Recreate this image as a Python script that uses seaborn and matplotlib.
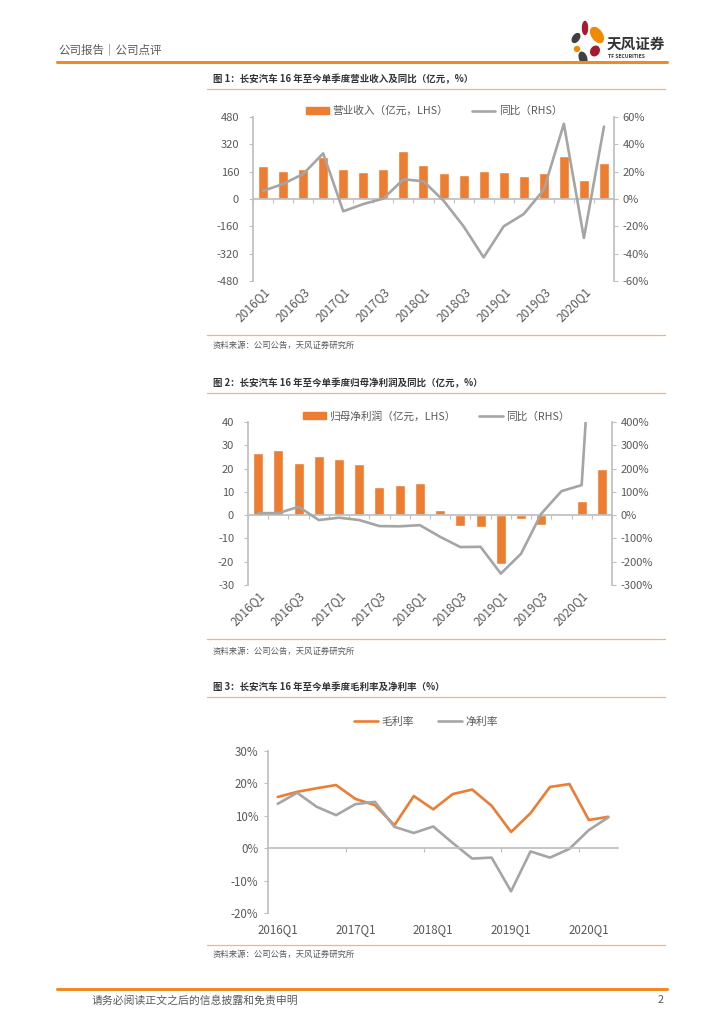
import numpy as np
import pandas as pd
import seaborn as sns
import matplotlib.pyplot as plt
from matplotlib.lines import Line2D
from matplotlib.patches import Patch, Ellipse

sns.set_theme(style="white")
plt.rcParams['font.family'] = ['Noto Sans CJK SC', 'DejaVu Sans']
plt.rcParams['axes.unicode_minus'] = False

# ---- data ----
quarters = ['2016Q1', '2016Q2', '2016Q3', '2016Q4', '2017Q1', '2017Q2', '2017Q3', '2017Q4',
            '2018Q1', '2018Q2', '2018Q3', '2018Q4', '2019Q1', '2019Q2', '2019Q3', '2019Q4',
            '2020Q1', '2020Q2']
revenue = [193, 164, 178, 248, 174, 156, 178, 283, 199, 154, 142, 164, 160, 137, 152, 254, 113, 213]
revenue_yoy = [5.9, 11.0, 18.3, 33.4, -9.0, -3.7, 0.3, 14.4, 13.0, -1.2, -20.0, -42.7,
               -20.0, -11.0, 6.8, 55.0, -28.5, 53.0]
profit = [26.6, 28.1, 22.4, 25.3, 23.9, 22.0, 11.9, 13.1, 13.7, 2.0, -4.6, -5.0,
          -21.0, -1.6, -4.3, 0.0, 6.1, 19.7]
profit_yoy = [8.6, 8.6, 36, -21, -11, -21, -47, -48, -43, -93, -137, -136,
              -251, -166, 6, 103, 129, 1500]
gross_margin = [15.8, 17.4, 18.5, 19.5, 15.2, 13.3, 7.1, 16.1, 12.0, 16.7, 18.1, 13.1,
                5.0, 10.8, 18.9, 19.8, 8.7, 9.7]
net_margin = [13.7, 17.1, 12.8, 10.2, 13.6, 14.3, 6.6, 4.7, 6.7, 1.6, -3.2, -2.9,
              -13.3, -1.0, -2.9, -0.2, 5.6, 9.5]

ORANGE = '#ED7D31'
GRAY = '#A5A5A5'
AXIS = '#BFBFBF'
TEXT = '#595959'
pos = np.arange(len(quarters))

W, H = 724, 1024
fig = plt.figure(figsize=(W / 100, H / 100), dpi=100)


def box(x0, y0, x1, y1):
    return fig.add_axes([x0 / W, 1 - y1 / H, (x1 - x0) / W, (y1 - y0) / H])


def hline(y, x0, x1, color, lw):
    fig.add_artist(Line2D([x0 / W, x1 / W], [1 - y / H, 1 - y / H], color=color, lw=lw))


def text(x, y, s, **kw):
    fig.text(x / W, 1 - y / H, s, va='center', **kw)


def xaxis_setup(ax, tick_at, label_at, rotate, fs):
    ax.set_xlim(-0.5, len(quarters) - 0.5)
    ax.spines['bottom'].set_position(('data', 0))
    ax.spines['bottom'].set_color(AXIS)
    ax.set_xticks(tick_at)
    ax.tick_params(axis='x', bottom=True, length=3, width=0.8, color=AXIS,
                   direction='out', labelbottom=False)
    sec = ax.secondary_xaxis(0)
    sec.set_xticks(label_at, labels=[quarters[i] for i in label_at])
    sec.tick_params(length=0, labelsize=fs, labelcolor=TEXT, pad=3 if rotate else 7)
    sec.spines['bottom'].set_visible(False)
    if rotate:
        plt.setp(sec.get_xticklabels(), rotation=45, ha='right', va='top',
                 rotation_mode='anchor')


def combo(ax, values, yoy, label, lticks, rticks, legend_xy):
    df = pd.DataFrame({'pos': pos, 'value': values, 'yoy': yoy})
    sns.barplot(data=df, x='pos', y='value', ax=ax, color=ORANGE, saturation=1, width=0.5)
    ax2 = ax.twinx()
    sns.lineplot(data=df, x='pos', y='yoy', ax=ax2, color=GRAY, lw=1.9)
    xaxis_setup(ax, np.arange(-0.5, len(quarters), 1), list(range(0, len(quarters), 2)), True, 8.6)
    ax.set_ylim(lticks[0], lticks[-1])
    ax.set_yticks(lticks, labels=[f'{v:g}' for v in lticks])
    ax2.set_ylim(rticks[0], rticks[-1])
    ax2.set_yticks(rticks, labels=[f'{v:g}%' for v in rticks])
    for a in (ax, ax2):
        a.set_xlabel('')
        a.set_ylabel('')
        a.spines['top'].set_visible(False)
    ax.spines['right'].set_visible(False)
    ax.spines['left'].set_color(AXIS)
    ax2.spines['left'].set_visible(False)
    ax2.spines['bottom'].set_visible(False)
    ax2.spines['right'].set_color(AXIS)
    ax.tick_params(axis='y', left=True, length=3, width=0.8, color=AXIS,
                   labelsize=8, labelcolor=TEXT, pad=7)
    ax2.tick_params(axis='y', right=True, length=3, width=0.8, color=AXIS,
                    labelsize=8, labelcolor=TEXT, pad=3)
    handles = [Patch(color=ORANGE, label=label),
               Line2D([], [], color=GRAY, lw=1.9, label='同比（RHS）')]
    ax2.legend(handles=handles, loc='center', bbox_to_anchor=(legend_xy[0] / W, 1 - legend_xy[1] / H),
               bbox_transform=fig.transFigure, ncol=2, frameon=False, fontsize=7.7,
               handlelength=2.2, handleheight=0.6, handletextpad=0.3, columnspacing=2.2,
               labelcolor=TEXT)


# ---- page header ----
text(58, 50, '公司报告｜公司点评', fontsize=8.3, color=TEXT)
hline(62, 57, 667, '#F08A24', 2.2)
logo = box(562, 18, 612, 64)
logo.set_xlim(562, 612)
logo.set_ylim(64, 18)
logo.axis('off')
for (cx, cy, w, h, ang, col) in [
        (585, 28, 5, 13, 0, '#A6192E'), (597, 35, 10, 17, -35, '#F08A00'),
        (576, 38, 6, 10, 35, '#404040'), (577, 49, 5, 5, 0, '#F08A00'),
        (595, 51, 8, 10, 30, '#A6192E'), (583, 58, 7, 12, -20, '#404040')]:
    logo.add_patch(Ellipse((cx, cy), w, h, angle=ang, color=col))
text(607, 44, '天风证券', fontsize=10.5, weight='bold', color='#333333')
text(608, 57, 'TF SECURITIES', fontsize=3.6, weight='bold', color='#333333')

titles = [(79, 89, '图 1：长安汽车 16 年至今单季度营业收入及同比（亿元，%）', 335, 345),
          (383, 393, '图 2：长安汽车 16 年至今单季度归母净利润及同比（亿元，%）', 639, 651),
          (687, 697, '图 3：长安汽车 16 年至今单季度毛利率及净利率（%）', 945, 954)]
for ty, ly, t, sy, st in titles:
    text(213, ty, t, fontsize=6.8, weight='bold', color='#333333')
    hline(ly, 207, 665, '#F5B27A', 0.9)
    hline(sy, 207, 665, '#F5B27A', 0.9)
    text(213, st, '资料来源：公司公告，天风证券研究所', fontsize=6, color=TEXT)

# ---- chart 1 ----
ax1 = box(253, 117, 614, 281)
combo(ax1, revenue, revenue_yoy, '营业收入（亿元，LHS）',
      [-480, -320, -160, 0, 160, 320, 480], [-60, -40, -20, 0, 20, 40, 60], (434, 111))

# ---- chart 2 ----
ax2 = box(248, 422, 612, 585)
combo(ax2, profit, profit_yoy, '归母净利润（亿元，LHS）',
      [-30, -20, -10, 0, 10, 20, 30, 40], [-300, -200, -100, 0, 100, 200, 300, 400], (436, 416))

# ---- chart 3 ----
ax3 = box(268, 751, 618, 913)
df3 = pd.DataFrame({'pos': pos, '毛利率': gross_margin, '净利率': net_margin})
df3 = df3.melt(id_vars='pos', var_name='指标', value_name='rate')
sns.lineplot(data=df3, x='pos', y='rate', hue='指标', palette=[ORANGE, GRAY], lw=1.9, ax=ax3)
xaxis_setup(ax3, [3.5, 7.5, 11.5, 15.5], [0, 4, 8, 12, 16], False, 8.3)
yt = [-20, -10, 0, 10, 20, 30]
ax3.set_ylim(-20, 30)
ax3.set_yticks(yt, labels=[f'{v}%' for v in yt])
ax3.set_xlabel('')
ax3.set_ylabel('')
ax3.spines['top'].set_visible(False)
ax3.spines['right'].set_visible(False)
ax3.spines['left'].set_color(AXIS)
ax3.tick_params(axis='y', left=True, length=3, width=0.8, color=AXIS,
                labelsize=8.3, labelcolor=TEXT, pad=4)
h3, l3 = ax3.get_legend_handles_labels()
ax3.legend(h3, l3, loc='center', bbox_to_anchor=(426 / W, 1 - 722 / H),
           bbox_transform=fig.transFigure, ncol=2, frameon=False, fontsize=7.8,
           handlelength=2.2, handletextpad=0.3, columnspacing=2.2, labelcolor=TEXT)

# ---- footer ----
hline(989, 57, 667, '#F08A24', 2.2)
text(92, 1000, '请务必阅读正文之后的信息披露和免责申明', fontsize=7.8, color=TEXT)
text(664, 1000, '2', fontsize=7.8, color=TEXT, ha='right')

fig.savefig('out.png', dpi=100)
